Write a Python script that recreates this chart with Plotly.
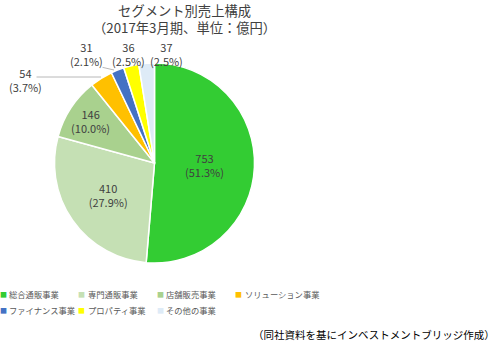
import plotly.graph_objects as go

categories = ["総合通販事業", "専門通販事業", "店舗販売事業", "ソリューション事業",
              "ファイナンス事業", "プロパティ事業", "その他の事業"]
values = [753, 410, 146, 54, 31, 36, 37]
colors = ["#33CC33", "#C5E0B4", "#A9D18E", "#FFC000", "#4472C4", "#FFFF00", "#DEEBF7"]
inside = [True, True, True, False, False, False, False]

FONT = "Noto Sans CJK JP, Meiryo, sans-serif"
W, H = 500, 343
total = sum(values)

fig = go.Figure(go.Pie(
    labels=categories,
    values=values,
    sort=False,
    direction="clockwise",
    rotation=0,
    marker=dict(colors=colors, line=dict(color="white", width=1.5)),
    texttemplate="%{value}<br>(%{percent:.1%})",
    textposition=["inside" if f else "none" for f in inside],
    insidetextorientation="horizontal",
    textfont=dict(size=11, color="#404040", family=FONT),
    domain=dict(x=[54 / W, 255 / W], y=[1 - 263 / H, 1 - 63 / H]),
    hoverinfo="label+value+percent",
    showlegend=False,
))

annotations = [
    dict(text="セグメント別売上構成<br>（2017年3月期、単位：億円）", x=184 / W, y=1 - 18.5 / H,
         font=dict(size=13.3, color="#404040"), align="center"),
    dict(text="（同社資料を基にインベストメントブリッジ作成）", x=497 / W, y=1 - 334 / H,
         xanchor="right", font=dict(size=10.5, color="#000000")),
]

# leader lines for two of the outside labels
annotations.append(dict(text="", x=101 / W, y=1 - 77 / H, ax=-66, ay=0,
                        showarrow=True, arrowhead=0, arrowwidth=0.8, arrowcolor="#A6A6A6"))
annotations.append(dict(text="", x=114 / W, y=1 - 70 / H, ax=-13, ay=-3,
                        showarrow=True, arrowhead=0, arrowwidth=0.8, arrowcolor="#A6A6A6"))

# outside data labels for the small slices (text built from the data)
outside_label_pos = {3: (25, 80), 4: (86, 54), 5: (128, 54), 6: (166, 54)}
for i, (lx, ly) in outside_label_pos.items():
    annotations.append(dict(
        text=f"{values[i]}<br>({values[i] / total * 100:.1f}%)", x=lx / W, y=1 - ly / H,
        font=dict(size=11, color="#404040"), align="center"))

# legend (two rows, four columns) built from the categories / colours
for i, (cat, col) in enumerate(zip(categories, colors)):
    cx = 3 + (i % 4) * 78.5
    cy = 294 + (i // 4) * 16
    annotations.append(dict(text="■", x=cx / W, y=1 - cy / H, xanchor="center",
                            font=dict(size=7, color=col)))
    annotations.append(dict(text=cat, x=(cx + 4) / W, y=1 - cy / H, xanchor="left",
                            font=dict(size=8.3, color="#595959")))

for a in annotations:
    a.setdefault("xref", "paper")
    a.setdefault("yref", "paper")
    a.setdefault("showarrow", False)
    a.setdefault("xanchor", "center")
    a.setdefault("yanchor", "middle")

fig.update_layout(
    width=W, height=H,
    margin=dict(l=0, r=0, t=0, b=0),
    paper_bgcolor="white",
    plot_bgcolor="white",
    font=dict(family=FONT, color="#404040"),
    uniformtext=dict(minsize=11, mode="show"),
    annotations=annotations,
)

fig.write_html("out.html")
